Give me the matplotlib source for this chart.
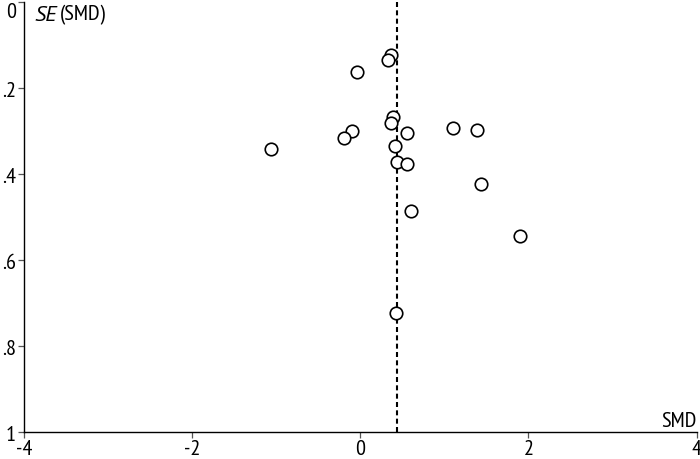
import matplotlib
matplotlib.use("Agg")
import matplotlib.pyplot as plt

# Funnel plot data: SMD (x) and SE(SMD) (y)
smd = [0.36, 0.325, -0.04, 0.385, 0.37, -0.10, -0.19, 0.56, 1.10, 1.39,
       -1.06, 0.41, 0.44, 0.56, 1.44, 0.60, 1.90, 0.42]
se = [0.123, 0.134, 0.161, 0.266, 0.280, 0.299, 0.316, 0.304, 0.293, 0.297,
      0.341, 0.333, 0.371, 0.376, 0.423, 0.485, 0.543, 0.723]
pooled_smd = 0.44
xticks = [-4, -2, 0, 2, 4]
yticks = [0, 0.2, 0.4, 0.6, 0.8, 1.0]
ytick_labels = ["0", ".2", ".4", ".6", ".8", "1"]

plt.rcParams['font.family'] = ['PT Sans Narrow', 'DejaVu Sans']
FS = 16

fig = plt.figure(figsize=(7, 4.6), dpi=100)
ax = fig.add_axes([0.0347, 0.058, 0.995 - 0.0347, 0.9928 - 0.058])

ax.plot(smd, se, linestyle='none', marker='o', markersize=9,
        markerfacecolor='white', markeredgecolor='black', markeredgewidth=1.2,
        zorder=3)
ax.axvline(pooled_smd, color='black', linewidth=1.5, linestyle=(0, (2.4, 1.6)),
           zorder=2)

ax.set_xlim(-4, 4)
ax.set_ylim(1, 0)
ax.set_xticks(xticks)
ax.set_xticklabels([str(t) for t in xticks])
ax.set_yticks(yticks)
ax.set_yticklabels(ytick_labels)

for s in ['top', 'right']:
    ax.spines[s].set_visible(False)
for s in ['left', 'bottom']:
    ax.spines[s].set_linewidth(1.0)
    ax.spines[s].set_color('black')

ax.tick_params(axis='both', direction='out', length=4, width=0.9,
               color='#555555', labelsize=FS, pad=2)
ax.tick_params(axis='x', pad=0.5)
# the top tick label sits just below its tick, as in the reference
ax.get_yticklabels()[0].set_verticalalignment('top')

t1 = ax.text(0.0155, 0.993, 'SE', transform=ax.transAxes, ha='left', va='top',
             fontsize=FS, family=['PT Sans', 'DejaVu Sans'], style='italic')
ax.annotate('(SMD)', xy=(1, 0), xycoords=t1, xytext=(2, 0),
            textcoords='offset points', ha='left', va='bottom', fontsize=FS)
ax.text(0.9995, 0.006, 'SMD', transform=ax.transAxes, ha='right', va='bottom',
        fontsize=FS)

fig.savefig('out.png', dpi=100)
